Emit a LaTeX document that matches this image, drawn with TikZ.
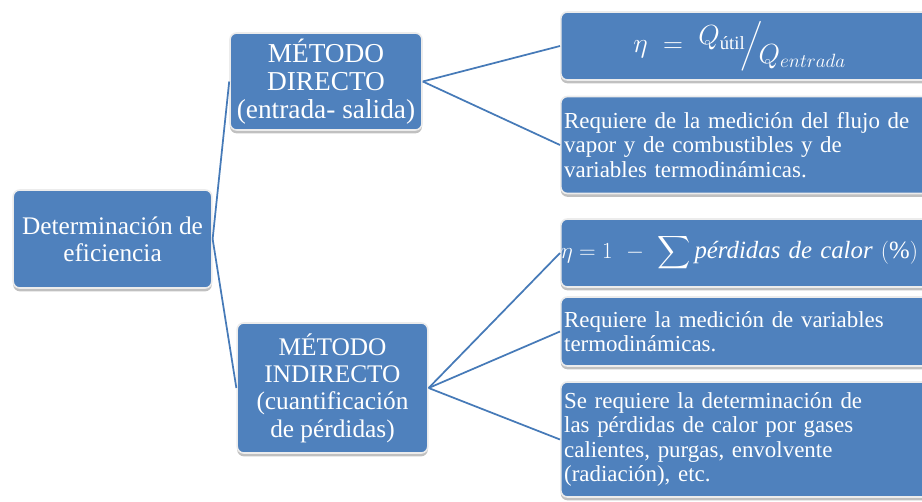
\documentclass[tikz,border=0pt]{standalone}
\usepackage{amsmath}
\usepackage{fontspec}
\setmainfont{Liberation Serif}
\usetikzlibrary{shadows}
\definecolor{boxblue}{RGB}{79,129,189}
\definecolor{linkblue}{RGB}{70,122,184}

\begin{document}
\begin{tikzpicture}[
  x=0.75pt, y=-0.75pt,
  main_box/.style={rectangle, rounded corners=5pt, fill=boxblue, draw=white!85!gray, line width=1.2pt,
    text=white, align=center, inner sep=2pt,
    drop shadow={shadow xshift=0pt, shadow yshift=-2.5pt, opacity=0.35, fill=black!70}},
  mid_box/.style={main_box, font=\fontsize{19}{20.5}\selectfont},
  leaf_box/.style={main_box, anchor=west, align=left, inner sep=2.5pt, minimum width=281pt,
    text width=276pt, font=\fontsize{17.2}{18.4}\selectfont},
  eq_font/.style={font=\fontsize{20}{22}\selectfont},
  link_line/.style={draw=linkblue, line width=1.3pt},
]
\useasboundingbox (0,0) rectangle (922,501);
\fill[white] (0,0) rectangle (922,501);

\draw (112.5,239) node (root) [mid_box, minimum width=149pt, minimum height=73.5pt] {Determinación de\\eficiencia};
\draw (326,81.5) node (direct) [mid_box, font=\fontsize{20.5}{21}\selectfont, minimum width=144pt, minimum height=72.75pt] {MÉTODO\\DIRECTO\\(entrada- salida)};
\draw (332.5,388) node (indirect) [mid_box, minimum width=143pt, minimum height=97.5pt] {MÉTODO\\INDIRECTO\\(cuantificación\\de pérdidas)};

\draw (560,46) node (eq_direct) [leaf_box, eq_font, minimum height=51pt] {\hspace*{52pt}$\eta\;=\;\raisebox{6pt}{$Q_{\text{útil}}$}\!\Big/\!\raisebox{-8pt}{$Q_{entrada}$}$};
\draw (560,145) node (req_direct) [leaf_box, minimum height=72.75pt] {Requiere de la medición del flujo de\\vapor y de combustibles y de\\variables termodinámicas.};
\draw (560,253) node (eq_indirect) [leaf_box, font=\fontsize{18.6}{20}\selectfont, minimum height=51pt] {\makebox[276pt][l]{\hspace*{-2.5pt}$\eta = 1\ -\ \displaystyle\sum \textit{pérdidas de calor}\ (\%)$}};
\draw (560,331.5) node (req_vars) [leaf_box, minimum height=51.75pt] {Requiere la medición de variables\\termodinámicas.};
\draw (560,439.5) node (req_losses) [leaf_box, minimum height=86.25pt] {Se requiere la determinación de\\las pérdidas de calor por gases\\calientes, purgas, envolvente\\(radiación), etc.};

\draw[link_line] (root.east) -- (direct.west);
\draw[link_line] (root.east) -- (indirect.west);
\draw[link_line] (direct.east) -- (eq_direct.west);
\draw[link_line] (direct.east) -- (req_direct.west);
\draw[link_line] (indirect.east) -- (eq_indirect.west);
\draw[link_line] (indirect.east) -- (req_vars.west);
\draw[link_line] (indirect.east) -- (req_losses.west);
\end{tikzpicture}
\end{document}
